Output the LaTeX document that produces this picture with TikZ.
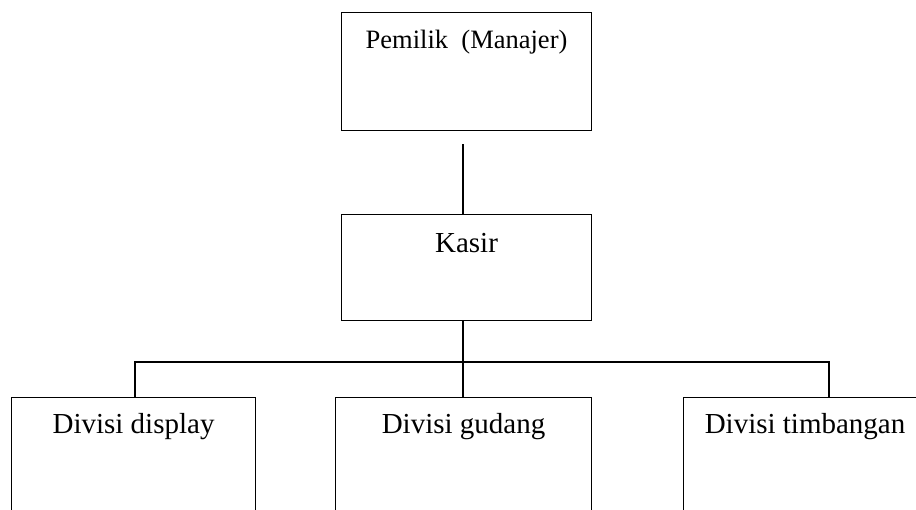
\documentclass[tikz,border=0pt]{standalone}
\usepackage{fontspec}
\setmainfont{Liberation Serif}
\usetikzlibrary{positioning}
\begin{document}
\begin{tikzpicture}[x=1pt, y=-1pt,
    box/.style={rectangle, draw, line width=1.1pt, anchor=north west, inner sep=0pt},
    lbl/.style={anchor=base, inner sep=0pt, font=\fontsize{29}{34}\selectfont},
    link/.style={line width=1.8pt}]
  \useasboundingbox (0,0) rectangle (916,509);
  \clip (0,0) rectangle (916,509);
  % Nodes
  \node (owner) [box, minimum width=250pt, minimum height=118pt] at (341, 12) {};
  \node (kasir) [box, minimum width=250pt, minimum height=106pt] at (341, 214) {};
  \node (display) [box, minimum width=244pt, minimum height=140pt] at (11, 397) {};
  \node (gudang) [box, minimum width=256pt, minimum height=140pt] at (335, 397) {};
  \node (timbangan) [box, minimum width=243pt, minimum height=140pt] at (683, 397) {};
  \node (owner-text) [lbl, font=\fontsize{26.5}{31}\selectfont] at ([yshift=-36pt]owner.north) {Pemilik\ \ (Manajer)};
  \node (kasir-text) [lbl] at ([yshift=-38pt]kasir.north) {Kasir};
  \node (display-text) [lbl] at ([yshift=-36pt]display.north) {Divisi display};
  \node (gudang-text) [lbl] at ([yshift=-36pt]gudang.north) {Divisi gudang};
  \node (timbangan-text) [lbl] at ([yshift=-36pt]timbangan.north) {Divisi timbangan};
  \coordinate (trunk) at (463, 362);
  \coordinate (bus-l) at (135, 362);
  \coordinate (bus-r) at (829, 362);
  % Lines
  \draw[link] ([yshift=-13pt]trunk |- owner.south) -- (trunk |- kasir.north);
  \draw[link] (trunk |- kasir.south) -- (trunk |- gudang.north);
  \draw[link] (bus-l |- display.north) -- (bus-l) -- (bus-r) -- (bus-r |- timbangan.north);
\end{tikzpicture}
\end{document}
